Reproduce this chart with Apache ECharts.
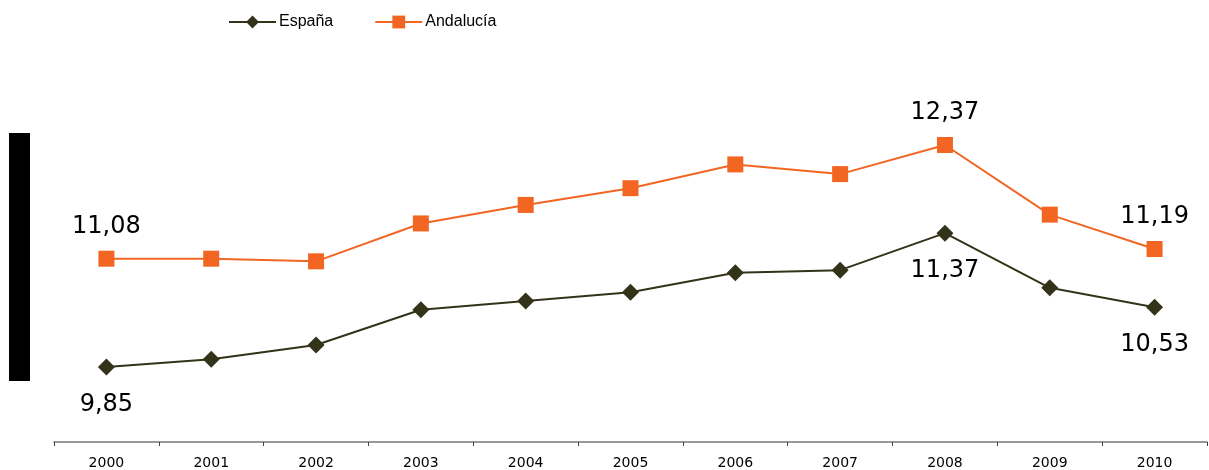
<!DOCTYPE html>
<html>
<head>
<meta charset="utf-8">
<script src="https://cdn.jsdelivr.net/npm/echarts@6/dist/echarts.min.js"></script>
<style>html,body{margin:0;padding:0;background:#fff}#c{width:1209px;height:470px}</style>
</head>
<body>
<div id="c"></div>
<script>
const years = ['2000','2001','2002','2003','2004','2005','2006','2007','2008','2009','2010'];
const espana = [9.85, 9.94, 10.10, 10.50, 10.60, 10.70, 10.92, 10.95, 11.37, 10.75, 10.53];
const andalucia = [11.08, 11.08, 11.05, 11.48, 11.69, 11.88, 12.15, 12.04, 12.37, 11.58, 11.19];
const labeledIdx = [0, 8, 10];

const fmt = v => v.toFixed(2).replace('.', ',');
function withLabels(arr, pos, dist) {
  return arr.map((v, i) => labeledIdx.includes(i)
    ? { value: v, label: { show: true, position: pos, distance: dist, formatter: p => fmt(p.value),
        fontFamily: 'DejaVu Sans', fontSize: 24, color: '#000' } }
    : v);
}

const chart = echarts.init(document.getElementById('c'), null, { renderer: 'canvas' });
chart.setOption({
  animation: false,
  backgroundColor: '#fff',
  legend: {
    left: 223, top: 9,
    itemWidth: 47, itemHeight: 16, itemGap: 41,
    textStyle: { fontFamily: 'Liberation Sans, Arial', fontSize: 16, color: '#000', padding: [0, 0, 0, -2] },
    data: ['España', 'Andalucía']
  },
  graphic: [{
    type: 'rect', shape: { x: 9, y: 133, width: 21, height: 248 }, style: { fill: '#000' }
  }],
  grid: { left: 54, right: 2, top: 89.5, bottom: 28, containLabel: false, outerBoundsMode: 'none' },
  xAxis: {
    type: 'category', data: years, boundaryGap: true,
    axisLine: { lineStyle: { color: '#777777', width: 1.5 } },
    axisTick: { show: true, length: 4, lineStyle: { color: '#404040' } },
    axisLabel: { fontFamily: 'DejaVu Sans', fontSize: 14, color: '#000', margin: 14 }
  },
  yAxis: {
    type: 'value', min: 9, max: 13, show: false, splitLine: { show: false }
  },
  series: [
    {
      name: 'España', type: 'line', data: withLabels(espana, 'bottom', 17),
      symbol: 'diamond', symbolSize: 17,
      itemStyle: { color: '#333319' },
      lineStyle: { color: '#333319', width: 2 }
    },
    {
      name: 'Andalucía', type: 'line', data: withLabels(andalucia, 'top', 12),
      symbol: 'rect', symbolSize: 16,
      itemStyle: { color: '#F26522' },
      lineStyle: { color: '#F26522', width: 2 }
    }
  ]
});
</script>
</body>
</html>
